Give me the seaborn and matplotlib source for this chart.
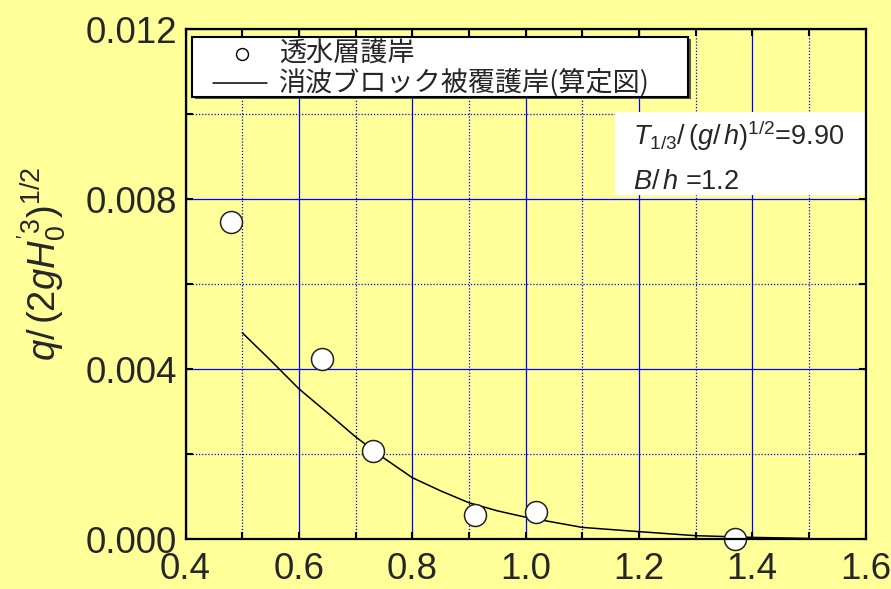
import matplotlib
matplotlib.use("Agg")
import matplotlib.pyplot as plt
import seaborn as sns
import pandas as pd
from matplotlib.lines import Line2D
from matplotlib.patches import Rectangle
from matplotlib.ticker import MultipleLocator, FixedLocator, FormatStrFormatter

# measured overtopping rates (permeable-layer revetment)
obs_x = [0.480, 0.640, 0.730, 0.910, 1.019, 1.369]
obs_q = [0.00746, 0.00424, 0.00208, 0.00057, 0.00064, 0.00000]

# design-chart curve (armour-block covered revetment)
calc_x = [0.50, 0.55, 0.60, 0.65, 0.70, 0.75, 0.80, 0.85, 0.90, 0.95,
          1.00, 1.10, 1.20, 1.30, 1.40, 1.50]
calc_q = [0.00486, 0.00421, 0.00354, 0.00298, 0.00241, 0.00191, 0.00145,
          0.00114, 0.00086, 0.00067, 0.00052, 0.00028, 0.00018, 0.000085,
          0.000045, 0.00002]

x_ticks = [0.4, 0.6, 0.8, 1.0, 1.2, 1.4, 1.6]
y_ticks = [0.000, 0.004, 0.008, 0.012]

legend_labels = ["透水層護岸", "消波ブロック被覆護岸(算定図)"]
cond_lines = [r"$T_{\mathrm{1/3}}/\,(g/\,h)^{\mathrm{1/2}}$=9.90",
              r"$B/\,h$ =1.2"]
y_label = r"$q/\,(\mathrm{2}gH_{\mathrm{0}}^{\mathrm{'3}})^{\mathrm{1/2}}$"

BG = "#ffff99"
BLUE = "#0000ff"
CJK = ["Noto Sans CJK JP", "DejaVu Sans"]

sns.set_style("ticks")
plt.rcParams["font.family"] = ["Liberation Sans", "DejaVu Sans"]
plt.rcParams["mathtext.fontset"] = "custom"
plt.rcParams["mathtext.rm"] = "Liberation Sans"
plt.rcParams["mathtext.it"] = "Liberation Sans:italic"
plt.rcParams["mathtext.bf"] = "Liberation Sans:bold"

obs = pd.DataFrame({"x": obs_x, "q": obs_q})
calc = pd.DataFrame({"x": calc_x, "q": calc_q})

W, H = 891, 589
fig = plt.figure(figsize=(W / 100, H / 100), dpi=100, facecolor=BG)
ax = fig.add_axes([0.2083, 0.0844, 0.7632, 0.8659])
ax.set_facecolor(BG)


def fx(px):
    return px / W


def fy(py):
    return 1 - py / H


sns.lineplot(data=calc, x="x", y="q", ax=ax, color="black", lw=1.1,
             zorder=4, legend=False)
sns.scatterplot(data=obs, x="x", y="q", ax=ax, s=250, facecolor="white",
                edgecolor="#222222", linewidth=1.1, zorder=6, clip_on=False,
                legend=False)

ax.set_xlim(0.4, 1.6)
ax.set_ylim(0.0, 0.012)
ax.xaxis.set_major_locator(FixedLocator(x_ticks))
ax.yaxis.set_major_locator(FixedLocator(y_ticks))
ax.xaxis.set_minor_locator(MultipleLocator(0.1))
ax.yaxis.set_minor_locator(MultipleLocator(0.002))
ax.xaxis.set_major_formatter(FormatStrFormatter("%.1f"))
ax.yaxis.set_major_formatter(FormatStrFormatter("%.3f"))
ax.set_xlabel("")
ax.set_ylabel("")

ax.set_axisbelow(True)
ax.grid(which="major", color=BLUE, lw=0.9, ls="-")
ax.grid(which="minor", color=BLUE, lw=0.9, ls=(0, (1, 1.5)))
ax.tick_params(which="both", direction="in", top=True, right=True,
               length=5, width=1.5, color="black", labelsize=26.5)
ax.tick_params(axis="x", pad=9)
ax.tick_params(axis="y", pad=6)
for sp in ax.spines.values():
    sp.set_visible(True)
    sp.set_linewidth(1.6)
    sp.set_color("black")
    sp.set_zorder(7)

# white box holding the test conditions
ax.add_patch(Rectangle((1.157, 0.0081), 0.443, 0.00196, facecolor="white",
                       edgecolor="none", zorder=3))
fig.text(fx(633), fy(145), cond_lines[0], fontsize=19.5, va="baseline",
         ha="left", zorder=8)
fig.text(fx(633), fy(189), cond_lines[1], fontsize=19.5, va="baseline",
         ha="left", zorder=8)

# y-axis title
fig.text(0.047, fy(264), y_label, rotation=90, fontsize=27.5,
         ha="center", va="center")

# legend box with drop shadow
lx0, lx1, ly0, ly1 = 192.3, 688, 36.7, 96.7
fig.patches.append(Rectangle((fx(lx0 + 2.5), fy(ly1 + 2.5)),
                             fx(lx1 - lx0), fy(ly0) - fy(ly1),
                             transform=fig.transFigure, facecolor="#555555",
                             edgecolor="none", zorder=8))
fig.patches.append(Rectangle((fx(lx0), fy(ly1)),
                             fx(lx1 - lx0), fy(ly0) - fy(ly1),
                             transform=fig.transFigure, facecolor="white",
                             edgecolor="black", lw=1.5, zorder=9))
fig.lines.append(Line2D([fx(241.7)], [fy(54)], transform=fig.transFigure,
                        marker="o", ls="none", ms=8.6, mfc="white",
                        mec="black", mew=1.0, zorder=10))
fig.lines.append(Line2D([fx(213), fx(267)], [fy(83), fy(83)],
                        transform=fig.transFigure, color="black", lw=1.1,
                        zorder=10))
fig.text(fx(279), fy(54), legend_labels[0], family=CJK, fontsize=19.5,
         va="center", ha="left", zorder=10)
fig.text(fx(279), fy(83), legend_labels[1], family=CJK, fontsize=19.5,
         va="center", ha="left", zorder=10)

fig.savefig("out.png", dpi=100, facecolor=BG)
